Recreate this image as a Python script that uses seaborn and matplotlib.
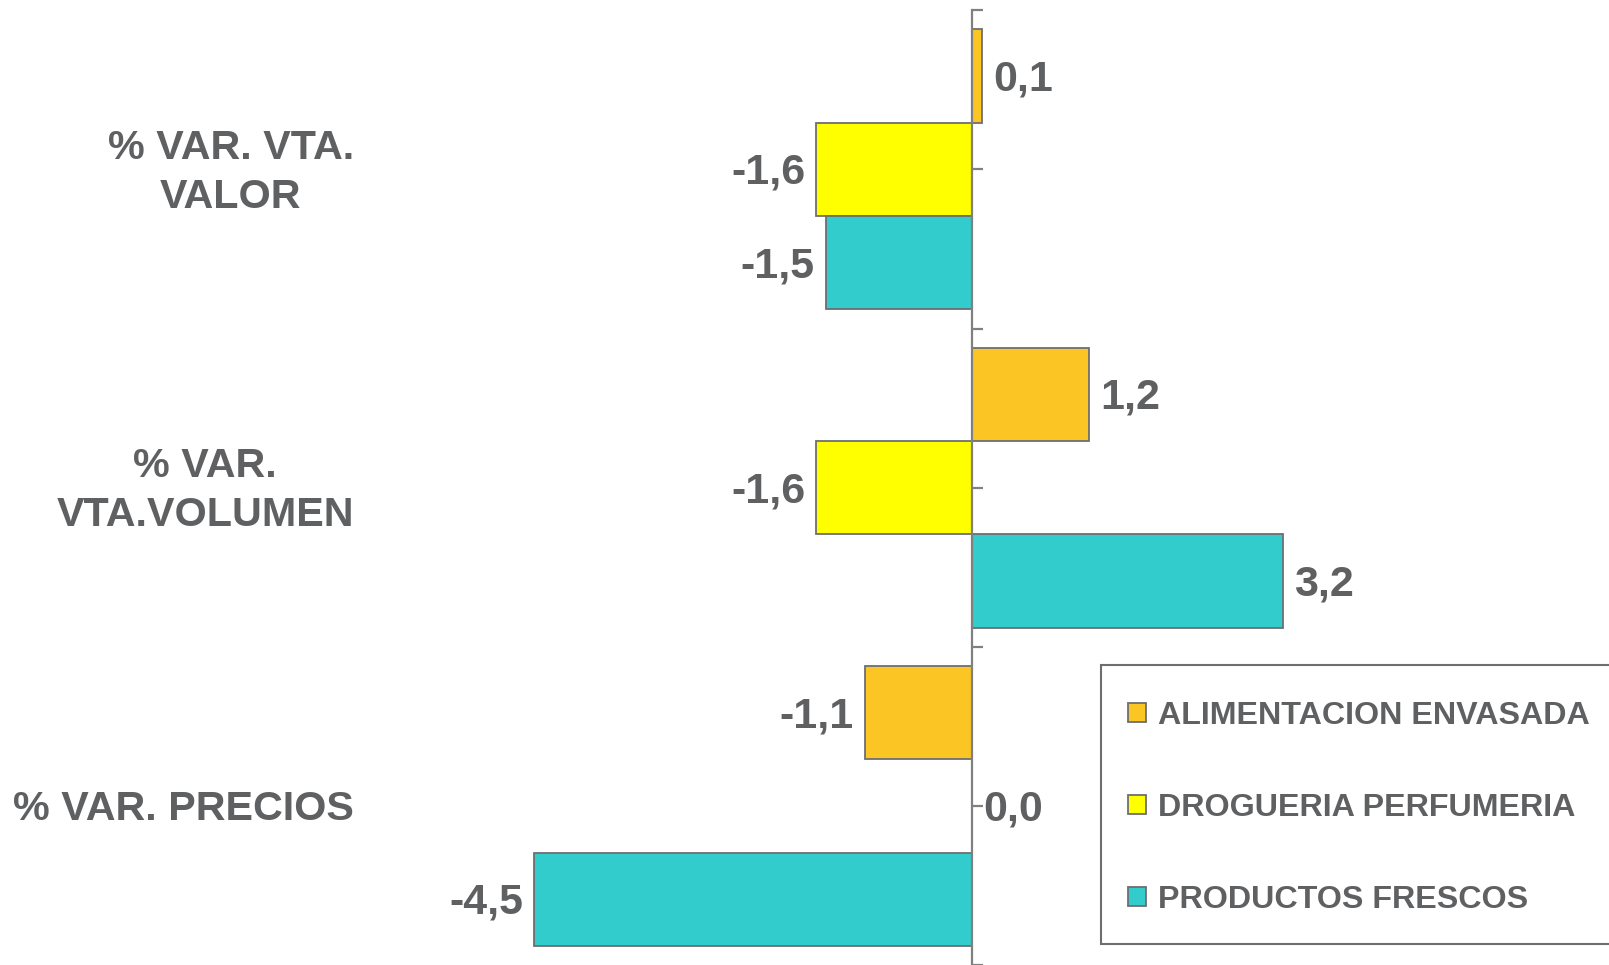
import matplotlib
matplotlib.use("Agg")
import matplotlib.pyplot as plt
from matplotlib.patches import Patch, Rectangle
import seaborn as sns
import pandas as pd

categories = ["% VAR. VTA.\nVALOR", "% VAR.\nVTA.VOLUMEN", "% VAR. PRECIOS"]
series = ["ALIMENTACION ENVASADA", "DROGUERIA PERFUMERIA", "PRODUCTOS FRESCOS"]
alimentacion = [0.1, 1.2, -1.1]
drogueria = [-1.6, -1.6, 0.0]
frescos = [-1.5, 3.2, -4.5]
colors = ["#FBC623", "#FFFF00", "#33CCCC"]

df = pd.DataFrame({
    "cat": categories * 3,
    "serie": [s for s in series for _ in categories],
    "val": alimentacion + drogueria + frescos,
})

sns.set_theme(style="white")
plt.rcParams["font.family"] = ["Liberation Sans", "DejaVu Sans"]
plt.rcParams["font.weight"] = "bold"

TXT = "#5f6062"
EDGE = "#6d6e71"
W, H = 1609, 965
fig = plt.figure(figsize=(W / 100, H / 100), dpi=100)
ax = fig.add_axes([0, 0, 1, 1 - 10.3 / H])

sns.barplot(data=df, y="cat", x="val", hue="serie", order=categories,
            hue_order=series, palette=colors, orient="h", width=0.88,
            edgecolor=EDGE, linewidth=1.3, saturation=1, legend=False, ax=ax)

# zero line at ~972 px, ~97.3 px per unit
scale = 97.3
x0 = 972
ax.set_xlim(-x0 / scale, (W - x0) / scale)
ax.set_ylim(2.5, -0.5)

for s in ["top", "right", "bottom"]:
    ax.spines[s].set_visible(False)
ax.spines["left"].set_position(("data", 0))
ax.spines["left"].set_color("#808080")
ax.spines["left"].set_linewidth(1.6)
ax.set_xticks([])
ax.set_yticks([-0.5, 0, 0.5, 1, 1.5, 2, 2.5])
ax.set_yticklabels([])
ax.tick_params(axis="y", direction="in", length=8, width=1.6, color="#808080", left=True)
ax.set_xlabel("")
ax.set_ylabel("")

for cont in ax.containers:
    labels = [f"{v:.1f}".replace(".", ",") for v in cont.datavalues]
    anns = ax.bar_label(cont, labels=labels, padding=8, fontsize=31,
                        fontweight="bold", color=TXT)
    for a in anns:
        a.xyann = (a.xyann[0], -2.5)

for i, c in enumerate(categories):
    ax.text((354 - x0) / scale, i + 0.01, c, ha="right", va="center", multialignment="center",
            fontsize=29.7, fontweight="bold", color=TXT, linespacing=1.36)

# legend frame drawn separately so the padding can be set freely
fig.add_artist(Rectangle((1101 / W, 1 - 944 / H), (W + 20 - 1101) / W, (944 - 665) / H,
                         transform=fig.transFigure, facecolor="white",
                         edgecolor="#6d6e71", linewidth=1.5, clip_on=False))

handles = [Patch(facecolor=col, edgecolor=EDGE, linewidth=1.3) for col in colors]
leg = fig.legend(handles, series, loc="upper left", bbox_to_anchor=(1128 / W, 1 - 701 / H),
                 frameon=False, fontsize=23.2, labelspacing=1.92,
                 handlelength=0.55, handleheight=0.55, handletextpad=0.38,
                 borderpad=0, borderaxespad=0)
for t in leg.get_texts():
    t.set_color(TXT)
    t.set_fontweight("bold")

fig.savefig("out.png", dpi=100)
